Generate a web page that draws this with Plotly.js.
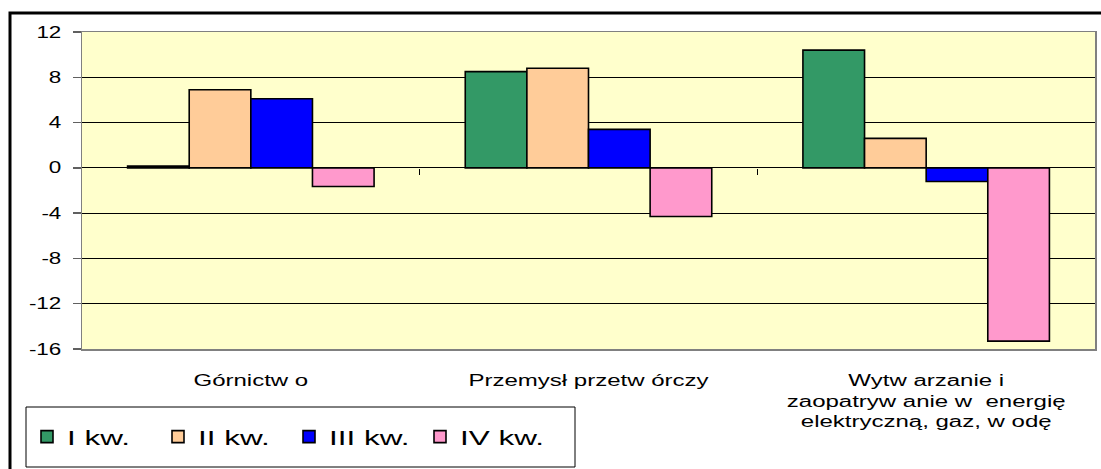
<!DOCTYPE html>
<html><head><meta charset="utf-8">
<script src="https://cdn.plot.ly/plotly-3.0.1.min.js"></script>
<style>body{margin:0;background:#fff}#c{width:1101px;height:469px}</style>
</head><body><div id="c"></div>
<script>
const categories = ["Górnictw o", "Przemysł przetw órczy", "Wytw arzanie i<br>zaopatryw anie w  energię<br>elektryczną, gaz, w odę"];
const seriesNames = ["I kw.", "II kw.", "III kw.", "IV kw."];
const q1 = [0.15, 8.5, 10.4];
const q2 = [6.9, 8.8, 2.6];
const q3 = [6.1, 3.4, -1.2];
const q4 = [-1.65, -4.3, -15.3];
const yTicks = [12, 8, 4, 0, -4, -8, -12, -16];
const colors = ["#339966", "#FFCC99", "#0000FF", "#FF99CC"];
const values = [q1, q2, q3, q4];

const traces = values.map((v, i) => ({
  type: 'bar', x: categories, y: v, name: seriesNames[i],
  marker: {color: colors[i], line: {color: '#000', width: 1.6}},
  hoverinfo: 'none'
}));
// empty helper trace so the boundary-tick axis at y = 0 is drawn
traces.push({type: 'bar', x: [], y: [], xaxis: 'x2', showlegend: false, hoverinfo: 'none'});

const W = 1101, H = 469, L = 82, R = 6, T = 32, B = 120;
const pw = W - L - R, ph = H - T - B;
const yMin = -16, yMax = 12;
const px = x => (x - L) / pw;
const py = y => (T + ph - y) / ph;

const layout = {
  width: W, height: H,
  margin: {l: L, r: R, t: T, b: B},
  paper_bgcolor: '#fff', plot_bgcolor: '#FFFFCC',
  font: {family: 'Liberation Sans, Arial, sans-serif', size: 16, color: '#000'},
  barmode: 'group', bargap: 0.27, bargroupgap: 0,
  showlegend: true,
  legend: {
    orientation: 'h', x: px(27), xanchor: 'left', y: py(437), yanchor: 'middle',
    bgcolor: 'rgba(0,0,0,0)', borderwidth: 0,
    font: {size: 21}, entrywidth: 86, entrywidthmode: 'pixels', itemwidth: 30
  },
  xaxis: {
    type: 'category', showline: true, mirror: true, linecolor: '#808080', linewidth: 1.5,
    ticks: '', showgrid: false, ticklabelstandoff: 16, tickfont: {size: 16}, fixedrange: true
  },
  xaxis2: {
    type: 'linear', overlaying: 'x', anchor: 'free', position: (0 - yMin) / (yMax - yMin),
    range: [-0.5, 2.5], tickvals: [0.5, 1.5], ticks: 'outside', ticklen: 6, tickcolor: '#000', tickwidth: 1,
    showticklabels: false, showgrid: false, showline: false, zeroline: false, fixedrange: true
  },
  yaxis: {
    range: [yMin, yMax], tickvals: yTicks, ticktext: yTicks.map(String),
    showline: true, mirror: true, linecolor: '#808080', linewidth: 1.5,
    ticks: 'outside', ticklen: 8, tickcolor: '#606060', tickwidth: 1.5, ticklabelstandoff: 8,
    showgrid: true, gridcolor: '#000', gridwidth: 1, zeroline: true, zerolinecolor: '#000', zerolinewidth: 1,
    tickfont: {size: 16}, fixedrange: true
  },
  shapes: [
    {type: 'rect', xref: 'paper', yref: 'paper',
     x0: px(10), x1: px(1120), y0: py(480), y1: py(13),
     line: {color: '#000', width: 3}, fillcolor: 'rgba(0,0,0,0)', layer: 'below'},
    {type: 'rect', xref: 'paper', yref: 'paper',
     x0: px(26), x1: px(575), y0: py(467), y1: py(407),
     line: {color: '#000', width: 1}, fillcolor: '#fff', layer: 'below'}
  ]
};

function stretch(sel, f) {
  document.querySelectorAll(sel).forEach(t => {
    const lines = t.querySelectorAll('tspan.line');
    const targets = lines.length ? Array.from(lines) : [t];
    targets.forEach(el => {
      const len = el.getComputedTextLength();
      if (len > 0) {
        el.setAttribute('textLength', (len * f).toFixed(1));
        el.setAttribute('lengthAdjust', 'spacingAndGlyphs');
      }
    });
  });
}

Plotly.newPlot('c', traces, layout, {displayModeBar: false, staticPlot: true}).then(() => {
  stretch('.xtick text', 1.5);
  stretch('.ytick text', 1.4);
  stretch('.legendtext', 1.5);
});
</script></body></html>
